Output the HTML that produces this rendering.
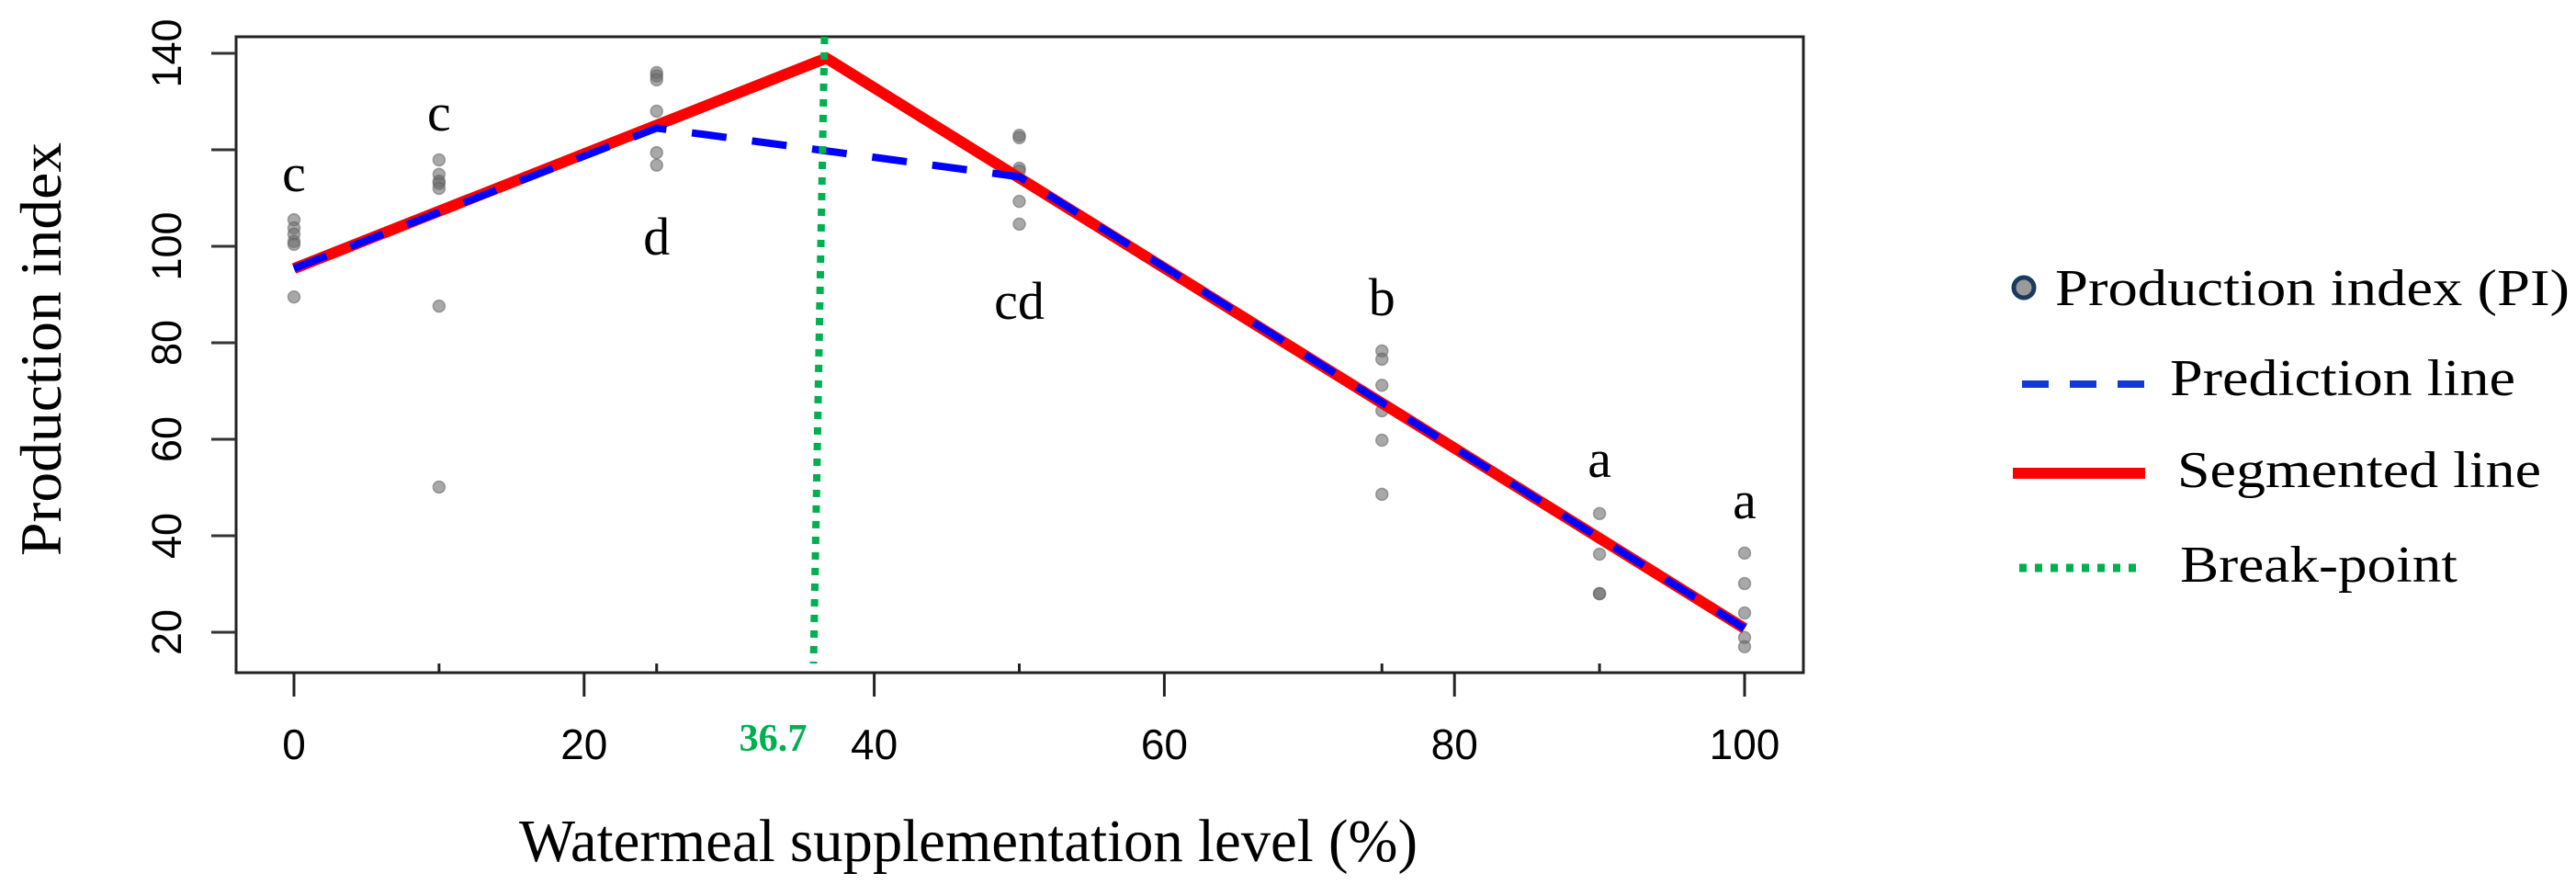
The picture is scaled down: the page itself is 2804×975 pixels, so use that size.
<!DOCTYPE html>
<html><head><meta charset="utf-8"><style>
html,body{margin:0;padding:0;background:#fff;width:2804px;height:975px;overflow:hidden}
svg{display:block}
</style></head><body>
<svg id="chart" width="2804" height="975" viewBox="0 0 2804 975" xmlns="http://www.w3.org/2000/svg">
<g id="plot"></g>
<g id="legend">
  <circle cx="2203" cy="313" r="11" fill="#9a9a9a" stroke="#1c3a5e" stroke-width="5"/>
  <text x="2237" y="332" font-family="Liberation Serif, serif" font-size="56" textLength="560" lengthAdjust="spacingAndGlyphs">Production index (PI)</text>
  <line x1="2201" y1="418" x2="2335" y2="418" stroke="#1438d8" stroke-width="8" stroke-dasharray="29,23"/>
  <text x="2362" y="430" font-family="Liberation Serif, serif" font-size="56" textLength="376" lengthAdjust="spacingAndGlyphs">Prediction line</text>
  <line x1="2191" y1="515" x2="2335" y2="515" stroke="#ff0000" stroke-width="12"/>
  <text x="2370" y="530" font-family="Liberation Serif, serif" font-size="56" textLength="396" lengthAdjust="spacingAndGlyphs">Segmented line</text>
  <line x1="2198" y1="618" x2="2334" y2="618" stroke="#00b050" stroke-width="9" stroke-dasharray="8,9"/>
  <text x="2373" y="633" font-family="Liberation Serif, serif" font-size="56" textLength="302" lengthAdjust="spacingAndGlyphs">Break-point</text>
</g>
</svg>
<script>
const levels = [0, 10, 25, 50, 75, 90, 100];
const observations = [
  [105.5, 103.8, 102.5, 101, 100.4, 89.5],
  [117.9, 114.9, 113.5, 113, 112, 87.6, 50.1],
  [136, 135.3, 134.5, 128, 119.4, 116.8],
  [123, 122.5, 116.2, 115.6, 109.3, 104.6],
  [78.3, 76.6, 71.2, 65.9, 59.8, 48.6],
  [44.6, 36.2, 28, 28],
  [36.4, 30.1, 24, 18.9, 17]
];
const groupLetters = ["c", "c", "d", "cd", "b", "a", "a"];
const letterY = [111.4, 124, 98.3, 85, 85.7, 52.2, 43.6];
const segmentedX = [0, 36.7, 100];
const segmentedY = [95.4, 139, 20.8];
const predictionX = [0, 25, 50, 100];
const predictionY = [95.4, 124.5, 114.4, 20.8];
const breakPoint = 36.7;
const xTicks = [0, 20, 40, 60, 80, 100];
const yTicks = [20, 40, 60, 80, 100, 120, 140];
const yTickLabels = ["20", "40", "60", "80", "100", "", "140"];

const NS = "http://www.w3.org/2000/svg";
const X = v => 320 + v * 15.79;
const Y = v => 688 - (v - 20) * 5.25;
const plot = document.getElementById("plot");
function mk(tag, attrs, text) {
  const e = document.createElementNS(NS, tag);
  for (const k in attrs) e.setAttribute(k, attrs[k]);
  if (text !== undefined) e.textContent = text;
  plot.appendChild(e);
  return e;
}
let el;
el = mk("rect", {x: 257, y: 40, width: 1706, height: 692, fill: "none", stroke: "#222", "stroke-width": 3});


yTicks.forEach((v, i) => {
  el = mk("line", {x1: 230, x2: 257, y1: Y(v), y2: Y(v), stroke: "#333", "stroke-width": 3});
  
  
  if (yTickLabels[i]) {
    el = mk("text", {x: 0, y: 0, transform: `translate(197,${Y(v)}) rotate(-90)`, "text-anchor": "middle", "font-family": "Liberation Sans, sans-serif", "font-size": 45}, yTickLabels[i]);
    
    
  }
});
xTicks.forEach(v => {
  el = mk("line", {x1: X(v), x2: X(v), y1: 732, y2: 758, stroke: "#222", "stroke-width": 3});
  
  
  el = mk("text", {x: X(v), y: 826, "text-anchor": "middle", "font-family": "Liberation Sans, sans-serif", "font-size": 46}, String(v));
  
  
});
levels.forEach(v => {
  if (xTicks.indexOf(v) >= 0) return;
  el = mk("line", {x1: X(v), x2: X(v), y1: 722, y2: 732, stroke: "#222", "stroke-width": 3});
  
  
});
el = mk("text", {x: X(breakPoint) - 58, y: 817, "text-anchor": "middle", "font-family": "Liberation Serif, serif", "font-size": 42, "font-weight": "bold", fill: "#00b050", textLength: 74, lengthAdjust: "spacingAndGlyphs"}, String(breakPoint));


el = mk("text", {x: 0, y: 0, transform: "translate(66,380) rotate(-90)", "text-anchor": "middle", "font-family": "Liberation Serif, serif", "font-size": 64, textLength: 450, lengthAdjust: "spacingAndGlyphs"}, "Production index");


el = mk("text", {x: 565, y: 937, "font-family": "Liberation Serif, serif", "font-size": 66, textLength: 978, lengthAdjust: "spacingAndGlyphs"}, "Watermeal supplementation level (%)");


levels.forEach((lv, i) => {
  observations[i].forEach(v => {
    el = mk("circle", {cx: X(lv), cy: Y(v), r: 6.5, fill: "rgba(110,110,110,0.6)", stroke: "rgba(90,90,90,0.5)", "stroke-width": 1.5});
    
    
  });
  el = mk("text", {x: X(lv), y: Y(letterY[i]), "text-anchor": "middle", "font-family": "Liberation Serif, serif", "font-size": 58}, groupLetters[i]);
  
  
});
el = mk("polyline", {points: segmentedX.map((x, i) => X(x) + "," + Y(segmentedY[i])).join(" "), fill: "none", stroke: "#ff0000", "stroke-width": 12, "stroke-linejoin": "miter"});


el = mk("polyline", {points: predictionX.map((x, i) => X(x) + "," + Y(predictionY[i])).join(" "), fill: "none", stroke: "#0000ff", "stroke-width": 8, "stroke-dasharray": "38,28"});


el = mk("line", {x1: X(breakPoint) - 2, y1: 40, x2: X(breakPoint) - 14, y2: 722, stroke: "#00b050", "stroke-width": 8, "stroke-dasharray": "8,9"});


</script>
</body></html>
